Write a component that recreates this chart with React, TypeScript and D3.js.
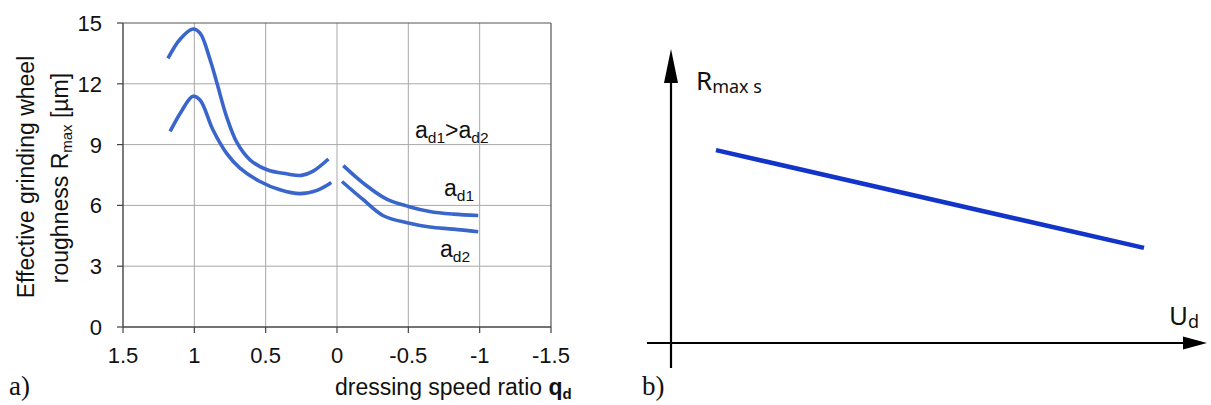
import React from "react";
import * as d3 from "d3";

// ---------- Panel a) data ----------
const xTicksA = [1.5, 1, 0.5, 0, -0.5, -1, -1.5];
const xTickLabelsA = ["1.5", "1", "0.5", "0", "-0.5", "-1", "-1.5"];
const yTicksA = [0, 3, 6, 9, 12, 15];
const yTickLabelsA = ["0", "3", "6", "9", "12", "15"];

// a_d1 (upper curve), positive dressing speed ratio branch
const ad1LeftQ = [1.185, 1.1, 1.01, 0.96, 0.89, 0.84, 0.775, 0.7, 0.61, 0.49, 0.355, 0.25, 0.17, 0.06];
const ad1LeftR = [13.25, 14.2, 14.7, 14.5, 13.2, 12.0, 10.4, 9.08, 8.25, 7.76, 7.56, 7.48, 7.68, 8.29];
// a_d2 (lower curve), positive branch
const ad2LeftQ = [1.17, 1.09, 1.01, 0.96, 0.87, 0.775, 0.68, 0.54, 0.4, 0.26, 0.14, 0.04];
const ad2LeftR = [9.65, 10.65, 11.38, 11.2, 9.73, 8.58, 7.84, 7.18, 6.77, 6.58, 6.74, 7.13];
// negative branch
const ad1RightQ = [-0.044, -0.184, -0.348, -0.5, -0.65, -0.815, -0.99];
const ad1RightR = [7.96, 7.1, 6.31, 5.95, 5.7, 5.57, 5.5];
const ad2RightQ = [-0.035, -0.184, -0.325, -0.5, -0.65, -0.815, -0.99];
const ad2RightR = [7.18, 6.28, 5.49, 5.13, 4.93, 4.83, 4.7];

// ---------- Panel b) data (schematic, normalised units) ----------
const udValues = [0.09, 0.946];
const rmaxValues = [0.643, 0.317];

const BLUE_A = "#3a66cc";
const BLUE_B = "#1234c8";
const ARIAL = "'Liberation Sans', Arial, sans-serif";
const SEGOE = "'Noto Sans', 'Open Sans', sans-serif";
const SERIF = "'Liberation Serif', 'Times New Roman', serif";

function zip(q: number[], r: number[]) {
  return q.map((v, i) => [v, r[i]] as [number, number]);
}

export default function App() {
  // panel a scales
  const x = d3.scaleLinear().domain([1.5, -1.5]).range([123, 551]);
  const y = d3.scaleLinear().domain([0, 15]).range([327, 23]);
  const line = d3
    .line<[number, number]>()
    .x((d) => x(d[0]))
    .y((d) => y(d[1]))
    .curve(d3.curveCatmullRom.alpha(0.5));

  const curves = [
    zip(ad1LeftQ, ad1LeftR),
    zip(ad2LeftQ, ad2LeftR),
    zip(ad1RightQ, ad1RightR),
    zip(ad2RightQ, ad2RightR),
  ];

  // panel b scales
  const xb = d3.scaleLinear().domain([0, 1]).range([671, 1171]);
  const yb = d3.scaleLinear().domain([0, 1]).range([343, 43]);
  const lineB = d3
    .line<[number, number]>()
    .x((d) => xb(d[0]))
    .y((d) => yb(d[1]));

  const x0 = x(1.5);
  const x1 = x(-1.5);
  const y0 = y(0);
  const y1 = y(15);

  const axB = xb(0);
  const ayB = yb(0);

  return (
    <svg
      width={1211}
      height={405}
      style={{ position: "absolute", left: 0, top: 0, background: "#fff" }}
    >
      <rect x={0} y={0} width={1211} height={405} fill="#fff" />
      {/* ---------------- Panel a ---------------- */}
      {xTicksA.slice(1, -1).map((t) => (
        <line key={"gx" + t} x1={x(t)} x2={x(t)} y1={y1} y2={y0} stroke="#a8a8a8" strokeWidth={1} />
      ))}
      {yTicksA.slice(1, -1).map((t) => (
        <line key={"gy" + t} x1={x0} x2={x1} y1={y(t)} y2={y(t)} stroke="#a8a8a8" strokeWidth={1} />
      ))}
      <line x1={x0} x2={x1} y1={y1} y2={y1} stroke="#555" strokeWidth={1.2} />
      <line x1={x1} x2={x1} y1={y1} y2={y0} stroke="#555" strokeWidth={1.2} />
      <line x1={x0} x2={x1} y1={y0} y2={y0} stroke="#444" strokeWidth={1.4} />
      <line x1={x0} x2={x0} y1={y1} y2={y0} stroke="#444" strokeWidth={1.4} />
      {xTicksA.map((t) => (
        <line key={"tx" + t} x1={x(t)} x2={x(t)} y1={y0} y2={y0 + 6} stroke="#444" strokeWidth={1.2} />
      ))}
      {yTicksA.map((t) => (
        <line key={"ty" + t} x1={x0 - 6} x2={x0} y1={y(t)} y2={y(t)} stroke="#444" strokeWidth={1.2} />
      ))}
      {xTicksA.map((t, i) => (
        <text key={"lx" + t} x={x(t)} y={363} textAnchor="middle" fontFamily={ARIAL} fontSize={22} fill="#111">
          {xTickLabelsA[i]}
        </text>
      ))}
      {yTicksA.map((t, i) => (
        <text key={"ly" + t} x={102} y={y(t) + 8} textAnchor="end" fontFamily={ARIAL} fontSize={22} fill="#111">
          {yTickLabelsA[i]}
        </text>
      ))}
      <text
        transform="translate(33.5,177) rotate(-90)"
        textAnchor="middle"
        fontFamily={ARIAL}
        fontSize={23}
        fill="#111"
      >
        Effective grinding wheel
      </text>
      <text
        transform="translate(68,178) rotate(-90)"
        textAnchor="middle"
        fontFamily={ARIAL}
        fontSize={23}
        fill="#111"
      >
        roughness R
        <tspan fontSize={15} dy={4}>max</tspan>
        <tspan dy={-4}> [µm]</tspan>
      </text>
      <text x={335} y={395} fontFamily={ARIAL} fontSize={23} fill="#111">
        dressing speed ratio{" "}
        <tspan fontWeight="bold">q</tspan>
        <tspan fontWeight="bold" fontSize={15} dy={4}>d</tspan>
      </text>
      {curves.map((c, i) => (
        <path key={"c" + i} d={line(c) || ""} fill="none" stroke={BLUE_A} strokeWidth={3.6} strokeLinecap="butt" />
      ))}
      <text x={415} y={138} fontFamily={ARIAL} fontSize={23} fill="#111">
        a<tspan fontSize={15.5} dy={5}>d1</tspan>
        <tspan dy={-5}>&gt;a</tspan>
        <tspan fontSize={15.5} dy={5}>d2</tspan>
      </text>
      <text x={444} y={196} fontFamily={ARIAL} fontSize={23} fill="#111">
        a<tspan fontSize={15.5} dy={5}>d1</tspan>
      </text>
      <text x={440} y={257} fontFamily={ARIAL} fontSize={23} fill="#111">
        a<tspan fontSize={15.5} dy={5}>d2</tspan>
      </text>
      <text x={9} y={395} fontFamily={SERIF} fontSize={27} fill="#111">
        a)
      </text>

      {/* ---------------- Panel b ---------------- */}
      <line x1={axB} x2={axB} y1={368} y2={80} stroke="#000" strokeWidth={2.2} />
      <path d={`M${axB},49 L${axB - 7},83 L${axB + 7},83 Z`} fill="#000" />
      <line x1={647} x2={1186} y1={ayB} y2={ayB} stroke="#000" strokeWidth={2.2} />
      <path d={`M1207,${ayB} L1183,${ayB - 6.5} L1183,${ayB + 6.5} Z`} fill="#000" />
      <path
        d={lineB(udValues.map((u, i) => [u, rmaxValues[i]] as [number, number])) || ""}
        fill="none"
        stroke={BLUE_B}
        strokeWidth={4.5}
      />
      <text x={696} y={90} fontFamily={SEGOE} fontSize={26} fill="#111">
        R<tspan fontSize={18} dy={3}>max s</tspan>
      </text>
      <text x={1169} y={325} fontFamily={SEGOE} fontSize={26} fill="#111">
        U<tspan fontSize={18} dy={3}>d</tspan>
      </text>
      <text x={642} y={395} fontFamily={SERIF} fontSize={27} fill="#111">
        b)
      </text>
    </svg>
  );
}
